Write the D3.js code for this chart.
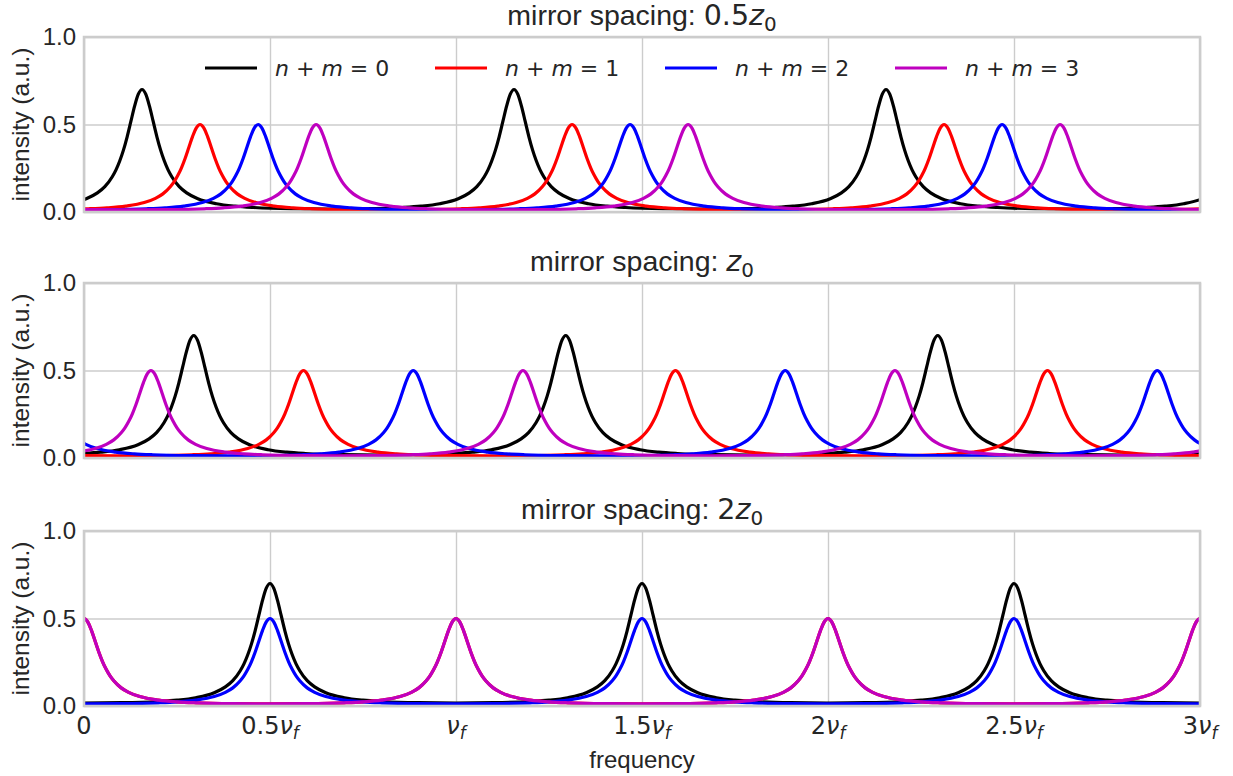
<!DOCTYPE html>
<html><head><meta charset="utf-8">
<script src="https://cdn.jsdelivr.net/npm/d3@7"></script>
<style>body{margin:0;background:#fff} svg{display:block}</style>
</head><body><svg id="c" width="1233" height="776"></svg>
<script>
// ---- data ----
const seriesOrder = ["0", "1", "2", "3"];            // value of n + m
const seriesColors = ["#000000", "#ff0000", "#0000ff", "#bf00bf"];
const peakHeights = [0.7, 0.5, 0.5, 0.5];
const panelTitleCoef = ["0.5", "", "2"];               // mirror spacing in units of z0
// resonance positions (fraction of the free spectral range nu_f), one per series, repeating every nu_f
const peaksSpacingHalf = [0.156, 0.312, 0.468, 0.624];
const peaksSpacingOne  = [0.295, 0.590, 0.885, 0.180];
const peaksSpacingTwo  = [0.500, 0.000, 0.500, 0.000];
// peak profile: relative intensity vs distance from a resonance (in nu_f)
const profileOffset = [0, 0.01, 0.02, 0.03, 0.04, 0.05, 0.06, 0.07, 0.08, 0.10, 0.12, 0.15, 0.20, 0.25, 0.30, 0.40, 0.50];
const profileValue  = [1, 0.962, 0.864, 0.739, 0.614, 0.505, 0.416, 0.344, 0.288, 0.207, 0.156, 0.108, 0.0675, 0.0476, 0.0368, 0.0269, 0.0244];
const xTickValues = [0, 0.5, 1, 1.5, 2, 2.5, 3];
const xTickCoef   = ["0", "0.5", "", "1.5", "2", "2.5", "3"];
const yTickValues = [0, 0.5, 1];
const yTickLabels = ["0.0", "0.5", "1.0"];

const panelPeaks = [peaksSpacingHalf, peaksSpacingOne, peaksSpacingTwo];

// ---- layout ----
const svg = d3.select("#c");
const left = 84, right = 1200;
const panelTops = [37, 283, 531], panelH = 175;
const txt = "#262626";
const sans = "'Liberation Sans', Arial, sans-serif";
const math = "'DejaVu Sans', sans-serif";

const x = d3.scaleLinear().domain([0, 3]).range([left, right]);

function seriesPoints(centre, height) {
  const pts = [];
  for (let k = -1; k <= 3; k++) {
    const c = centre + k;
    for (let i = profileOffset.length - 1; i >= 1; i--) pts.push([c - profileOffset[i], height * profileValue[i]]);
    pts.push([c, height * profileValue[0]]);
    for (let i = 1; i < profileOffset.length - 1; i++) pts.push([c + profileOffset[i], height * profileValue[i]]);
  }
  return pts.filter(p => p[0] > -0.6 && p[0] < 3.6).sort((a, b) => a[0] - b[0]);
}

function mathTerm(sel, coef, sym, sub, size) {
  sel.append("tspan").attr("font-family", math).text(coef);
  if (sym) {
    sel.append("tspan").attr("font-family", math).attr("font-style", "italic").text(sym);
    sel.append("tspan").attr("font-family", math).attr("font-style", sub.italic ? "italic" : "normal")
      .attr("font-size", size * 0.7).attr("dy", size * 0.2).text(sub.t);
  }
}

panelPeaks.forEach((peaks, p) => {
  const top = panelTops[p], bottom = top + panelH;
  const y = d3.scaleLinear().domain([0, 1]).range([bottom, top]);
  const g = svg.append("g");

  // grid
  g.append("g").attr("transform", `translate(0,${bottom})`)
    .call(d3.axisBottom(x).tickValues(xTickValues).tickSize(-panelH).tickFormat(""))
    .call(a => { a.select(".domain").remove(); a.selectAll("line").attr("stroke", "#cccccc").attr("stroke-width", 1.4); });
  g.append("g").attr("transform", `translate(${left},0)`)
    .call(d3.axisLeft(y).tickValues(yTickValues).tickSize(-(right - left)).tickFormat((d, i) => yTickLabels[i]).tickPadding(8))
    .call(a => {
      a.select(".domain").remove();
      a.selectAll("line").attr("stroke", "#cccccc").attr("stroke-width", 1.4);
      a.selectAll("text").attr("font-family", sans).attr("font-size", 24).attr("fill", txt);
    });

  // clip
  const cid = "clip" + p;
  svg.append("clipPath").attr("id", cid).append("rect")
    .attr("x", left).attr("y", top).attr("width", right - left).attr("height", panelH);

  const line = d3.line().x(d => x(d[0])).y(d => y(d[1])).curve(d3.curveMonotoneX);
  const lg = g.append("g").attr("clip-path", `url(#${cid})`);
  peaks.forEach((c, s) => {
    lg.append("path").datum(seriesPoints(c, peakHeights[s]))
      .attr("d", line).attr("fill", "none").attr("stroke", seriesColors[s])
      .attr("stroke-width", 3.2).attr("stroke-linejoin", "round");
  });

  // frame
  g.append("rect").attr("x", left).attr("y", top).attr("width", right - left).attr("height", panelH)
    .attr("fill", "none").attr("stroke", "#cccccc").attr("stroke-width", 2.5);

  // title
  const ts = 28.5;
  const t = g.append("text").attr("x", (left + right) / 2).attr("y", top - 12)
    .attr("text-anchor", "middle").attr("font-size", ts).attr("fill", txt);
  t.append("tspan").attr("font-family", sans).text("mirror spacing: ");
  mathTerm(t, panelTitleCoef[p], "z", { t: "0", italic: false }, ts);

  // y label
  g.append("text").attr("transform", `translate(29,${(top + bottom) / 2}) rotate(-90)`)
    .attr("text-anchor", "middle").attr("font-family", sans).attr("font-size", 24.5).attr("fill", txt)
    .text("intensity (a.u.)");

  // x tick labels on last panel
  if (p === panelPeaks.length - 1) {
    const xs = 24;
    xTickValues.forEach((v, i) => {
      const tt = g.append("text").attr("x", x(v)).attr("y", bottom + 28).attr("text-anchor", "middle")
        .attr("font-size", xs).attr("fill", txt);
      if (i === 0) tt.append("tspan").attr("font-family", math).text(xTickCoef[i]);
      else mathTerm(tt, xTickCoef[i], "\u03bd", { t: "f", italic: true }, xs);
    });
    g.append("text").attr("x", (left + right) / 2).attr("y", 768).attr("text-anchor", "middle")
      .attr("font-family", sans).attr("font-size", 24).attr("fill", txt).text("frequency");
  }

  // legend on first panel
  if (p === 0) {
    const ls = 22;
    const lx0 = 205, step = 230, ly = 68;
    seriesOrder.forEach((v, s) => {
      const lx = lx0 + s * step;
      g.append("line").attr("x1", lx).attr("x2", lx + 52).attr("y1", ly).attr("y2", ly)
        .attr("stroke", seriesColors[s]).attr("stroke-width", 3.2);
      const tt = g.append("text").attr("x", lx + 70).attr("y", ly + 8).attr("font-family", math)
        .attr("font-size", ls).attr("fill", txt);
      tt.append("tspan").attr("font-style", "italic").text("n");
      tt.append("tspan").text(" + ");
      tt.append("tspan").attr("font-style", "italic").text("m");
      tt.append("tspan").text(" = " + v);
    });
  }
});
</script>
</body></html>
